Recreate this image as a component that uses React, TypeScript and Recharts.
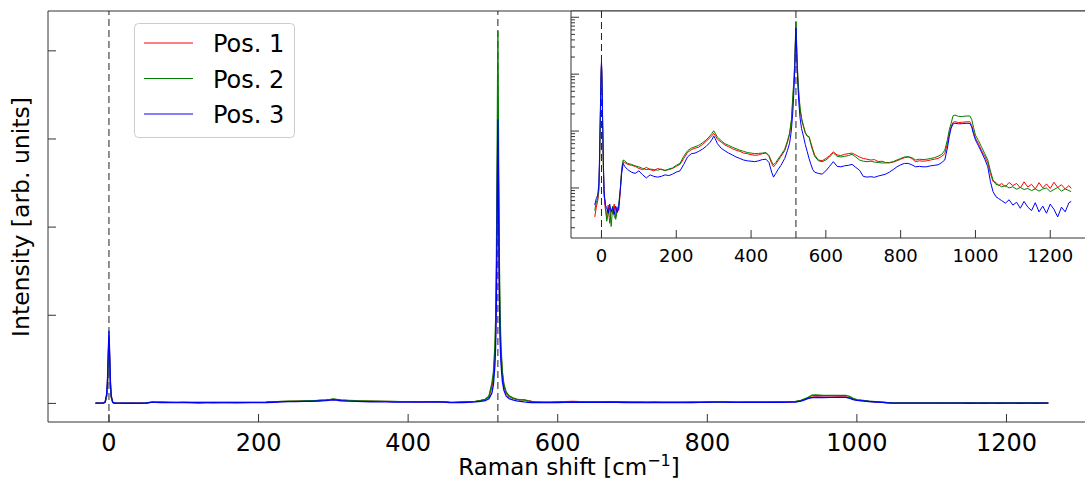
import { LineChart, Line, XAxis, YAxis, ReferenceLine, CartesianGrid } from 'recharts';

// Raman shift [cm^-1]
const shift = [
    -18, -14, -10, -7, -5, -3, -2, -1, 0, 1,
    2, 3, 5, 7, 10, 14, 18, 22, 26, 30,
    34, 38, 42, 46, 50, 54, 58, 62, 70, 80,
    90, 100, 110, 120, 130, 140, 150, 160, 170, 180,
    190, 200, 210, 220, 230, 240, 250, 260, 270, 280,
    290, 296, 300, 304, 310, 320, 330, 340, 350, 360,
    370, 380, 390, 400, 410, 420, 430, 440, 448, 455,
    460, 466, 472, 480, 490, 497, 503, 508, 512, 514,
    516, 517, 518, 519, 520, 521, 522, 523, 524, 526,
    528, 531, 535, 540, 545, 550, 555, 560, 565, 570,
    580, 590, 600, 610, 620, 630, 640, 650, 660, 670,
    680, 690, 700, 710, 720, 730, 740, 750, 760, 770,
    780, 790, 800, 810, 820, 830, 840, 850, 860, 870,
    880, 890, 900, 910, 918, 925, 930, 935, 940, 945,
    955, 965, 975, 985, 990, 995, 1000, 1008, 1016, 1025,
    1033, 1040, 1047, 1055, 1062, 1070, 1080, 1090, 1100, 1110,
    1120, 1130, 1140, 1150, 1160, 1170, 1180, 1190, 1200, 1210,
    1220, 1230, 1240, 1250, 1256,
];

const pos1 = [
    3.1, 4.5, 6, 9, 30, 180, 450, 1000, 1550, 1000,
    420, 150, 25, 8, 4.5, 3, 5, 2.4, 4.2, 3.5,
    5.2, 3.0, 4.6, 4.0, 8, 20, 29, 28, 26, 25,
    24, 22, 21, 23, 21, 20, 22, 21, 20.5, 21,
    22, 24, 26, 33, 42, 47, 50, 52, 58, 66,
    76, 84, 91, 84, 72, 64, 57, 53, 49, 46,
    44, 41, 40, 38.5, 37.5, 38, 40, 41, 36, 27,
    23.5, 26, 30, 36, 45, 62, 88, 150, 380, 600,
    1100, 1600, 2700, 4600, 6700, 4600, 2700, 1700, 1200, 650,
    400, 240, 160, 120, 92, 82, 80, 62, 48, 38,
    31, 30, 33, 37, 43, 38, 37, 39, 40, 41,
    38, 35, 33, 32, 31, 31.5, 29, 29.5, 28, 27.5,
    28.5, 30, 32, 34, 35, 33, 29, 30, 29.5, 30,
    31, 32, 33, 36, 40, 60, 90, 120, 142, 146,
    141, 143, 145, 146, 125, 95, 75, 60, 46, 36,
    27.5, 18, 13, 12.5, 11, 12, 10.5, 12.5, 11, 12,
    10, 12.8, 10.4, 11.6, 9.6, 12.4, 10, 11.8, 9.8, 12.6,
    10.2, 11.4, 9.6, 11, 9.8,
];

const pos2 = [
    4.0, 5.5, 6.5, 10, 28, 170, 430, 950, 1480, 950,
    400, 140, 22, 7, 6, 2.6, 3.5, 4.5, 2.1, 4.8,
    3.2, 2.8, 4.1, 5.0, 9, 22, 31, 30, 27, 26,
    24.5, 23.5, 22, 21, 21.5, 21, 20.5, 21.5, 20, 21.5,
    22.5, 25, 27, 36, 45, 50, 53, 56, 62, 70,
    82, 92, 101, 92, 78, 68, 60, 56, 52, 49,
    46, 44, 42, 41, 40, 40.5, 41, 42, 37, 29,
    25.5, 28, 32, 38, 48, 66, 92, 160, 460, 700,
    1300, 1900, 3200, 5500, 8450, 5500, 3200, 2000, 1350, 720,
    440, 260, 170, 125, 95, 82, 79, 58, 45, 36,
    30, 29, 31, 35, 41.5, 36, 35, 36, 37, 39,
    35, 31, 29.5, 29, 29.5, 28.5, 28, 27.5, 27.5, 28,
    29, 31, 33, 35, 35.5, 34, 31, 32, 31.5, 32,
    33, 34, 36, 39, 46, 70, 105, 137, 185, 191,
    181, 180, 184, 184, 160, 115, 85, 68, 53, 40,
    31, 20, 13.8, 11.5, 11.3, 10.5, 11, 10, 10.5, 9.5,
    10.2, 9.4, 9.8, 9, 9.6, 8.8, 9.6, 10, 8.6, 9.4,
    10.2, 8.8, 9.6, 9, 8.6,
];

const pos3 = [
    5.0, 6.5, 7.5, 12, 40, 220, 520, 1100, 1650, 1100,
    480, 180, 30, 9, 5, 4.5, 3.6, 5.2, 3.8, 4.6,
    3.4, 4.8, 3.7, 4.5, 9, 18, 27, 24, 21, 19,
    18, 20, 17, 15, 17, 16, 15.5, 16, 17, 16.5,
    17.5, 19, 20, 26, 35, 40, 41, 44, 48, 54,
    63, 72, 82, 74, 60, 50, 45, 41, 38, 35,
    33, 31, 30, 29.5, 29, 30, 31.5, 32, 28, 19,
    15.5, 18, 21, 25, 33, 45, 61, 105, 234, 420,
    850, 1300, 2400, 4300, 6450, 4300, 2400, 1400, 950, 500,
    300, 170, 110, 82, 58, 44, 33, 26, 21, 19,
    18, 17.5, 20, 24, 29, 24, 23.5, 24.5, 25, 26,
    23, 20.5, 16, 15.5, 15.8, 15.4, 16.2, 16.8, 17.5, 19,
    21, 23.5, 25.5, 27, 27, 25.5, 23.5, 24, 23.5, 23.6,
    24.5, 25, 25.5, 28, 31, 50, 80, 112, 133, 137,
    134, 135, 137, 136, 118, 88, 70, 55, 43, 32,
    23.6, 13, 8.6, 7, 6.5, 6, 5.4, 6.2, 5, 5.6,
    4.4, 5.8, 4.6, 4, 5.5, 3.8, 4.8, 3.6, 5.2, 4.2,
    3.1, 4.6, 3.8, 5.5, 5.8,
];

const xTicks = [0, 200, 400, 600, 800, 1000, 1200];
const yTicks = [0, 2000, 4000, 6000, 8000];
const logTicks = [
    2, 3, 4, 5, 6, 7, 8, 9,
    10, 20, 30, 40, 50, 60, 70, 80, 90,
    100, 200, 300, 400, 500, 600, 700, 800, 900,
    1000, 2000, 3000, 4000, 5000, 6000, 7000, 8000, 9000, 10000,
];
const markers = [0, 520];
const seriesNames = ['Pos. 1', 'Pos. 2', 'Pos. 3'];

const data = shift.map((x, i) => ({ shift: x, p1: pos1[i], p2: pos2[i], p3: pos3[i] }));

const FONT = 'DejaVu Sans, sans-serif';
const X_DOMAIN: [number, number] = [-81.5, 1319.7];
const Y_DOMAIN: [number, number] = [-422, 8904];
const LOG_DOMAIN: [number, number] = [1.32, 12880];
const SPINE = '#333';

// inward tick on a left axis; minor ticks (non-decade values on log axis) are shorter
const LeftTick = (props: any) => {
    const { x, y, payload, log } = props;
    let len = 8;
    if (log) {
        const lg = Math.log10(payload.value);
        if (Math.abs(lg - Math.round(lg)) > 1e-6) len = 4;
    }
    return <line x1={x} x2={x + len} y1={y} y2={y} stroke={SPINE} strokeWidth={1} />;
};

// inward tick on the bottom axis plus its label underneath
const BottomTick = (props: any) => {
    const { x, y, payload, fs, gap } = props;
    return (
        <g>
            <line x1={x} x2={x} y1={y} y2={y - 8} stroke={SPINE} strokeWidth={1} />
            <text x={x} y={y + gap + fs * 0.73} textAnchor="middle" fontSize={fs} fontFamily={FONT} fill="#000">
                {payload.value}
            </text>
        </g>
    );
};

function MainChart() {
    return (
        <LineChart width={1100} height={481} data={data} margin={{ top: 11, right: 4, bottom: 9, left: 47 }}>
            <XAxis
                dataKey="shift"
                type="number"
                domain={X_DOMAIN}
                allowDataOverflow
                ticks={xTicks}
                interval={0}
                height={50}
                tickSize={0}
                tickMargin={0}
                tickLine={false}
                stroke={SPINE}
                tick={<BottomTick fs={24} gap={11} />}
            />
            <YAxis
                type="number"
                domain={Y_DOMAIN}
                allowDataOverflow
                ticks={yTicks}
                interval={0}
                width={1}
                tickSize={0}
                tickMargin={0}
                tickLine={false}
                tick={<LeftTick />}
                stroke={SPINE}
            />
            <ReferenceLine y={Y_DOMAIN[1]} stroke={SPINE} />
            {markers.map((m) => (
                <ReferenceLine key={m} x={m} stroke="#222" strokeDasharray="7 4" />
            ))}
            <Line type="linear" dataKey="p1" stroke="#ff0000" strokeWidth={1.3} dot={false} isAnimationActive={false} />
            <Line type="linear" dataKey="p2" stroke="#008000" strokeWidth={1.3} dot={false} isAnimationActive={false} />
            <Line type="linear" dataKey="p3" stroke="#0000ff" strokeWidth={1.3} dot={false} isAnimationActive={false} />
        </LineChart>
    );
}

function InsetChart() {
    return (
        <LineChart width={560} height={270} data={data} margin={{ top: 11, right: 5, bottom: 4, left: 30 }}>
            <CartesianGrid fill="#fff" horizontal={false} vertical={false} />
            <XAxis
                dataKey="shift"
                type="number"
                domain={X_DOMAIN}
                allowDataOverflow
                ticks={xTicks}
                interval={0}
                height={28}
                tickSize={0}
                tickMargin={0}
                tickLine={false}
                stroke={SPINE}
                tick={<BottomTick fs={18} gap={11} />}
            />
            <YAxis
                scale="log"
                type="number"
                domain={LOG_DOMAIN}
                allowDataOverflow
                ticks={logTicks}
                interval={0}
                width={1}
                tickSize={0}
                tickMargin={0}
                tickLine={false}
                tick={<LeftTick log />}
                stroke={SPINE}
            />
            <ReferenceLine y={LOG_DOMAIN[1]} stroke={SPINE} />
            {markers.map((m) => (
                <ReferenceLine key={m} x={m} stroke="#222" strokeDasharray="7 4" />
            ))}
            <Line type="linear" dataKey="p1" stroke="#ff0000" strokeWidth={1} dot={false} isAnimationActive={false} />
            <Line type="linear" dataKey="p2" stroke="#008000" strokeWidth={1} dot={false} isAnimationActive={false} />
            <Line type="linear" dataKey="p3" stroke="#0000ff" strokeWidth={1} dot={false} isAnimationActive={false} />
        </LineChart>
    );
}

export default function App() {
    const legendColors = ['#ff0000', '#008000', '#0000ff'];
    const legendY = [43, 78.5, 114];
    return (
        <div style={{ position: 'fixed', left: 0, top: 0, width: 1085, height: 481, overflow: 'hidden', background: '#fff', fontFamily: FONT }}>
            <div style={{ position: 'absolute', left: 0, top: 0 }}>
                <MainChart />
            </div>
            <div style={{ position: 'absolute', left: 540, top: 0 }}>
                <InsetChart />
            </div>
            <svg width={1085} height={481} style={{ position: 'absolute', left: 0, top: 0, pointerEvents: 'none' }}>
                <text x={29} y={217} transform="rotate(-90 29 217)" textAnchor="middle" fontSize={23.5} fontFamily={FONT} fill="#000">
                    Intensity [arb. units]
                </text>
                <text x={569} y={475} textAnchor="middle" fontSize={23} fontFamily={FONT} fill="#000">
                    Raman shift [cm<tspan dy={-9} fontSize={16}>−1</tspan><tspan dy={9}>]</tspan>
                </text>
                <rect x={134.5} y={23.5} width={160} height={114} rx={4} fill="#fff" fillOpacity={0.8} stroke="#ccc" />
                {seriesNames.map((name, i) => (
                    <g key={name}>
                        <line x1={144} x2={193} y1={legendY[i]} y2={legendY[i]} stroke={legendColors[i]} strokeWidth={1} />
                        <text x={213} y={52 + i * 35.5} fontSize={24} fontFamily={FONT} fill="#000">{name}</text>
                    </g>
                ))}
            </svg>
        </div>
    );
}
